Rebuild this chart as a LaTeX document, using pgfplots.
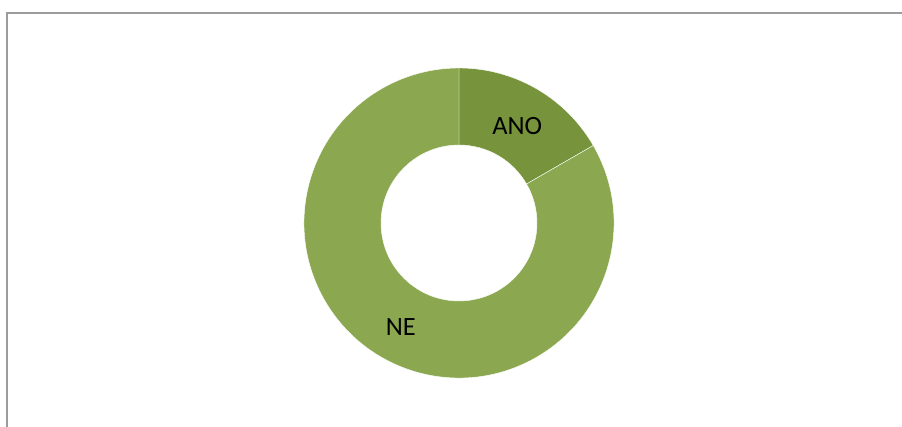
\documentclass[border=0pt]{standalone}
\usepackage{pgfplots}
\usepackage{pgfplotstable}
\usepackage{fontspec}
\setmainfont{Carlito}
\pgfplotsset{compat=1.18}
\usetikzlibrary{calc}
\definecolor{anoColor}{HTML}{77933C}
\definecolor{neColor}{HTML}{8BA750}
\definecolor{frameColor}{HTML}{9C9C9C}
\pgfplotstableread{
label value
ANO 1
NE 5
}\donutdata
\begin{document}%
\begin{tikzpicture}
\pgfplotstablegetelem{0}{value}\of\donutdata \let\vA\pgfplotsretval
\pgfplotstablegetelem{1}{value}\of\donutdata \let\vB\pgfplotsretval
\pgfmathsetmacro\angA{90-360*\vA/(\vA+\vB)}
\pgfmathsetmacro\midA{(90+\angA)/2}
\pgfmathsetmacro\midB{(\angA-270)/2}
\begin{axis}[
  name=main,
  scale only axis, width=902bp, height=427bp,
  xmin=0, xmax=902, ymin=0, ymax=427,
  hide axis, clip=true,
]
\addplot[draw=none] coordinates {(0,0) (902,427)};
\coordinate (c) at (axis cs:459,204);
\fill[anoColor, draw=white, line width=0.4bp]
  (c) ++(90:155bp) arc[start angle=90, end angle=\angA, radius=155bp]
  -- ($(c)+(\angA:78bp)$) arc[start angle=\angA, end angle=90, radius=78bp] -- cycle;
\fill[neColor, draw=white, line width=0.4bp]
  ($(c)+(\angA:155bp)$) arc[start angle=\angA, end angle=-270, radius=155bp]
  -- ($(c)+(-270:78bp)$) arc[start angle=-270, end angle=\angA, radius=78bp] -- cycle;
\node[font=\fontsize{26.5}{30}\selectfont, yshift=-3.5bp] at ($(c)+(\midA:116.5bp)$) {ANO};
\node[font=\fontsize{26.5}{30}\selectfont, yshift=-3.5bp] at ($(c)+(\midB:116.5bp)$) {NE};
\draw[frameColor, line width=2.2bp] (axis cs:7,0) -- (axis cs:7,414) -- (axis cs:902,414);
\end{axis}
\pgfresetboundingbox
\useasboundingbox (main.south west) rectangle (main.north east);
\end{tikzpicture}%
\end{document}
